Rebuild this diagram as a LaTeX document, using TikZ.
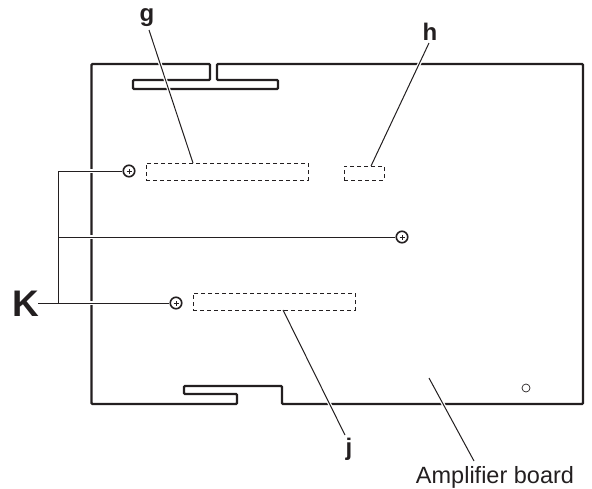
\documentclass[tikz,border=0pt]{standalone}
\usepackage{fontspec}
\setmainfont{Liberation Sans}
\usetikzlibrary{positioning, calc}
\definecolor{inkblack}{HTML}{231F20}
\tikzstyle{slot} = [rectangle, draw=inkblack, dashed, line width=0.7pt, dash pattern=on 4pt off 3pt, minimum height=17pt, inner sep=0pt]
\tikzstyle{screw} = [circle, draw=inkblack, line width=1.6pt, minimum size=11.5pt, inner sep=0pt, path picture={\draw [inkblack, line width=0.6pt] (path picture bounding box.center) +(-2.5pt,0) -- +(2.5pt,0) +(0,-2.5pt) -- +(0,2.5pt);}]
\tikzstyle{tag} = [text=inkblack, inner sep=0pt, anchor=base, font=\bfseries\fontsize{24}{24}\selectfont]
\tikzstyle{leader} = [draw=inkblack, line width=1pt, preaction={draw=white, line width=3.5pt, shorten <=3pt, shorten >=3pt}]
\tikzstyle{board} = [draw=inkblack, line width=2.2pt, rounded corners=1pt]

\begin{document}
\begin{tikzpicture}[x=1pt, y=-1pt]
        \useasboundingbox (0,0) rectangle (592,488);
        \draw [board] (91.5,64) -- (210,64) -- (210,80) -- (133,80) -- (133,89) -- (278,89) -- (278,80) -- (217,80) -- (217,64) -- (583,64) -- (583,404) -- (282,404) -- (282,386) -- (184,386) -- (184,394) -- (237,394) -- (237,404) -- (91.5,404) -- cycle;

        \node (slotg) [slot, minimum width=162pt] at (227,171.5) {};
        \node (sloth) [slot, minimum width=40pt, minimum height=14pt] at (364,173) {};
        \node (slotj) [slot, minimum width=162pt] at (274,301.5) {};
        \node (screwa) [screw] at (129,171) {};
        \node (screwb) [screw] at (402,237) {};
        \node (screwc) [screw] at (176,303) {};
        \node (hole) [circle, draw=inkblack, line width=0.7pt, minimum size=8pt, inner sep=0pt] at (526,388) {};

        \node (g) [tag] at (147,21.5) {g};
        \node (h) [tag] at (430,40.7) {h};
        \node (j) [tag] at (349,455) {j};
        \node (K) [tag, font=\bfseries\fontsize{37}{37}\selectfont] at (26,316) {K};
        \node (amp) [text=inkblack, inner sep=0pt, anchor=base, font=\fontsize{23.5}{24}\selectfont] at (495,483) {Amplifier board};

        \coordinate (gfoot) at (193,163);
        \coordinate (hfoot) at (371,166);
        \coordinate (jfoot) at (283,310);
        \coordinate (gtop) at (149,30);
        \coordinate (htop) at (429,43);
        \coordinate (jtop) at (345,435);
        \coordinate (amptop) at (474,461);
        \coordinate (ampfoot) at (429,378);
        \coordinate (Kend) at (38,303);
        \coordinate (trunka) at (58,171);
        \coordinate (trunkb) at (58,237);
        \coordinate (trunkc) at (58,303);

        \draw [leader] (gtop) -- (gfoot);
        \draw [leader] (htop) -- (hfoot);
        \draw [leader] (jtop) -- (jfoot);
        \draw [leader] (amptop) -- (ampfoot);
        \draw [leader] (Kend) -- (screwc);
        \draw [leader] (trunkb) -- (screwb);
        \draw [leader] (trunka) -- (screwa);
        \draw [draw=inkblack, line width=1pt] (trunka) -- (trunkc);

        \end{tikzpicture}
\end{document}
